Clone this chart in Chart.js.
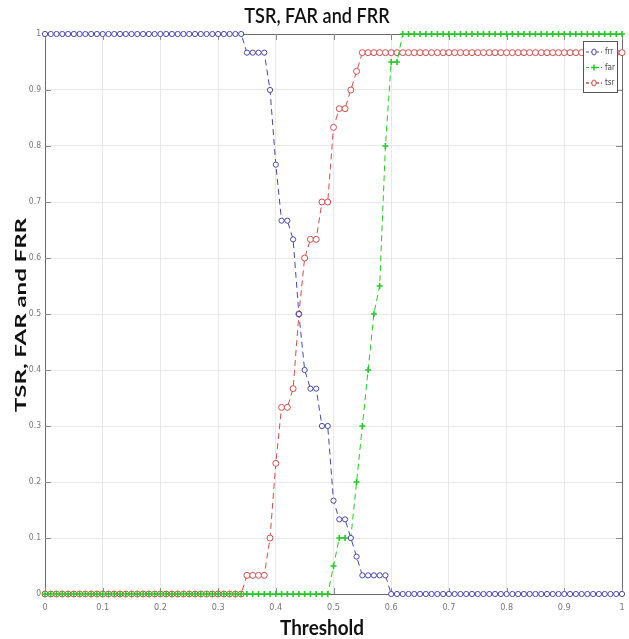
<!DOCTYPE html>
<html lang="en">
<head>
    <meta charset="UTF-8">
    <title>TSR, FAR and FRR</title>
    <script src="https://cdn.jsdelivr.net/npm/chart.js"></script>
    <style>
        html, body {
            margin: 0;
            padding: 0;
            background: #fff;
        }
        .chart-box {
            width: 629px;
            height: 639px;
        }
    </style>
</head>
<body>
    <div class="chart-box">
        <canvas id="rateChart" width="629" height="639"></canvas>
    </div>

    <script>
        const thresholds = [
            0.00, 0.01, 0.02, 0.03, 0.04, 0.05, 0.06, 0.07, 0.08, 0.09,
            0.10, 0.11, 0.12, 0.13, 0.14, 0.15, 0.16, 0.17, 0.18, 0.19,
            0.20, 0.21, 0.22, 0.23, 0.24, 0.25, 0.26, 0.27, 0.28, 0.29,
            0.30, 0.31, 0.32, 0.33, 0.34, 0.35, 0.36, 0.37, 0.38, 0.39,
            0.40, 0.41, 0.42, 0.43, 0.44, 0.45, 0.46, 0.47, 0.48, 0.49,
            0.50, 0.51, 0.52, 0.53, 0.54, 0.55, 0.56, 0.57, 0.58, 0.59,
            0.60, 0.61, 0.62, 0.63, 0.64, 0.65, 0.66, 0.67, 0.68, 0.69,
            0.70, 0.71, 0.72, 0.73, 0.74, 0.75, 0.76, 0.77, 0.78, 0.79,
            0.80, 0.81, 0.82, 0.83, 0.84, 0.85, 0.86, 0.87, 0.88, 0.89,
            0.90, 0.91, 0.92, 0.93, 0.94, 0.95, 0.96, 0.97, 0.98, 0.99,
            1.00
        ];

        const frr = [
            1, 1, 1, 1, 1, 1, 1, 1, 1, 1,
            1, 1, 1, 1, 1, 1, 1, 1, 1, 1,
            1, 1, 1, 1, 1, 1, 1, 1, 1, 1,
            1, 1, 1, 1, 1, 0.9667, 0.9667, 0.9667, 0.9667, 0.9,
            0.7667, 0.6667, 0.6667, 0.6333, 0.5, 0.4, 0.3667, 0.3667, 0.3, 0.3,
            0.1667, 0.1333, 0.1333, 0.1, 0.0667, 0.0333, 0.0333, 0.0333, 0.0333, 0.0333,
            0, 0, 0, 0, 0, 0, 0, 0, 0, 0,
            0, 0, 0, 0, 0, 0, 0, 0, 0, 0,
            0, 0, 0, 0, 0, 0, 0, 0, 0, 0,
            0, 0, 0, 0, 0, 0, 0, 0, 0, 0,
            0
        ];

        const far = [
            0, 0, 0, 0, 0, 0, 0, 0, 0, 0,
            0, 0, 0, 0, 0, 0, 0, 0, 0, 0,
            0, 0, 0, 0, 0, 0, 0, 0, 0, 0,
            0, 0, 0, 0, 0, 0, 0, 0, 0, 0,
            0, 0, 0, 0, 0, 0, 0, 0, 0, 0,
            0.05, 0.1, 0.1, 0.1, 0.2, 0.3, 0.4, 0.5, 0.55, 0.8,
            0.95, 0.95, 1, 1, 1, 1, 1, 1, 1, 1,
            1, 1, 1, 1, 1, 1, 1, 1, 1, 1,
            1, 1, 1, 1, 1, 1, 1, 1, 1, 1,
            1, 1, 1, 1, 1, 1, 1, 1, 1, 1,
            1
        ];

        const tsr = [
            0, 0, 0, 0, 0, 0, 0, 0, 0, 0,
            0, 0, 0, 0, 0, 0, 0, 0, 0, 0,
            0, 0, 0, 0, 0, 0, 0, 0, 0, 0,
            0, 0, 0, 0, 0, 0.0333, 0.0333, 0.0333, 0.0333, 0.1,
            0.2333, 0.3333, 0.3333, 0.3667, 0.5, 0.6, 0.6333, 0.6333, 0.7, 0.7,
            0.8333, 0.8667, 0.8667, 0.9, 0.9333, 0.9667, 0.9667, 0.9667, 0.9667, 0.9667,
            0.9667, 0.9667, 0.9667, 0.9667, 0.9667, 0.9667, 0.9667, 0.9667, 0.9667, 0.9667,
            0.9667, 0.9667, 0.9667, 0.9667, 0.9667, 0.9667, 0.9667, 0.9667, 0.9667, 0.9667,
            0.9667, 0.9667, 0.9667, 0.9667, 0.9667, 0.9667, 0.9667, 0.9667, 0.9667, 0.9667,
            0.9667, 0.9667, 0.9667, 0.9667, 0.9667, 0.9667, 0.9667, 0.9667, 0.9667, 0.9667,
            0.9667
        ];

        const axisTicks = [0, 0.1, 0.2, 0.3, 0.4, 0.5, 0.6, 0.7, 0.8, 0.9, 1];

        const seriesNames = ['frr', 'far', 'tsr'];
        const seriesColors = ['#4848b0', '#22cc22', '#d44c4c'];

        const chartTitle = 'TSR, FAR and FRR';
        const xTitle = 'Threshold';
        const yTitle = 'TSR, FAR and FRR';

        function toPoints(values) {
            return thresholds.map((t, i) => ({ x: t, y: values[i] }));
        }

        function tickText(v) {
            if (v === 0 || v === 1) return String(v);
            return v.toFixed(1);
        }

        // matlab style box around the axes, with inward tick marks
        const framePlugin = {
            id: 'frame',
            beforeDatasetsDraw(chart) {
                const { ctx, chartArea: a, scales } = chart;
                ctx.save();
                ctx.strokeStyle = '#6b6b6b';
                ctx.lineWidth = 1;
                ctx.strokeRect(a.left + 0.5, a.top + 0.5, a.right - a.left, a.bottom - a.top);
                ctx.strokeStyle = '#8a8a8a';
                ctx.beginPath();
                axisTicks.forEach(v => {
                    const px = Math.round(scales.x.getPixelForValue(v)) + 0.5;
                    const py = Math.round(scales.y.getPixelForValue(v)) + 0.5;
                    ctx.moveTo(px, a.bottom);
                    ctx.lineTo(px, a.bottom - 6);
                    ctx.moveTo(px, a.top);
                    ctx.lineTo(px, a.top + 6);
                    ctx.moveTo(a.left, py);
                    ctx.lineTo(a.left + 6, py);
                    ctx.moveTo(a.right, py);
                    ctx.lineTo(a.right - 6, py);
                });
                ctx.stroke();
                ctx.restore();
            }
        };

        // titles are a bit squeezed in the original picture, so draw them by hand
        const titlesPlugin = {
            id: 'titles',
            afterDraw(chart) {
                const { ctx, chartArea: a } = chart;
                const midY = (a.top + a.bottom) / 2;
                ctx.save();
                ctx.fillStyle = '#111';
                ctx.textAlign = 'center';
                ctx.textBaseline = 'middle';

                ctx.save();
                ctx.translate(317, 16);
                ctx.scale(0.86, 1);
                ctx.font = '600 21px Lato';
                ctx.fillText(chartTitle, 0, 0);
                ctx.restore();

                ctx.save();
                ctx.translate(322, 628);
                ctx.scale(0.9, 1);
                ctx.font = 'bold 21px Lato';
                ctx.fillText(xTitle, 0, 0);
                ctx.restore();

                ctx.save();
                ctx.translate(21, midY + 1);
                ctx.rotate(-Math.PI / 2);
                ctx.scale(1, 0.62);
                ctx.font = 'bold 24px Lato';
                ctx.fillText(yTitle, 0, 0);
                ctx.restore();

                ctx.restore();
            }
        };

        // small legend box in the upper right corner
        const boxLegend = {
            id: 'boxLegend',
            afterDatasetsDraw(chart) {
                const { ctx, chartArea: a } = chart;
                const w = 34, h = 51;
                const x = a.right - w - 5, y = a.top + 7;
                ctx.save();
                ctx.fillStyle = '#fff';
                ctx.fillRect(x, y, w, h);
                ctx.strokeStyle = '#555';
                ctx.lineWidth = 1;
                ctx.strokeRect(x + 0.5, y + 0.5, w, h);
                ctx.font = '8px "Liberation Sans Narrow", "DejaVu Sans Condensed", sans-serif';
                ctx.textBaseline = 'middle';
                chart.data.datasets.forEach((ds, i) => {
                    const cy = y + 11 + i * 15.5;
                    ctx.strokeStyle = ds.borderColor;
                    ctx.setLineDash([3, 2]);
                    ctx.beginPath();
                    ctx.moveTo(x + 3, cy);
                    ctx.lineTo(x + 19, cy);
                    ctx.stroke();
                    ctx.setLineDash([]);
                    ctx.beginPath();
                    if (ds.pointStyle === 'cross') {
                        ctx.moveTo(x + 11, cy - 3);
                        ctx.lineTo(x + 11, cy + 3);
                        ctx.moveTo(x + 8, cy);
                        ctx.lineTo(x + 14, cy);
                        ctx.lineWidth = 1.5;
                    } else {
                        ctx.ellipse(x + 11, cy, 2.2, 3, 0, 0, Math.PI * 2);
                        ctx.fillStyle = '#fff';
                        ctx.fill();
                        ctx.lineWidth = 1;
                    }
                    ctx.stroke();
                    ctx.fillStyle = '#444';
                    ctx.fillText(ds.label, x + 22, cy);
                });
                ctx.restore();
            }
        };

        const ctx = document.getElementById('rateChart').getContext('2d');

        new Chart(ctx, {
            type: 'line',
            data: {
                datasets: [
                    {
                        label: seriesNames[0],
                        data: toPoints(frr),
                        borderColor: seriesColors[0],
                        backgroundColor: '#fff',
                        borderWidth: 1,
                        borderDash: [6, 4],
                        pointStyle: 'circle',
                        pointRadius: 2.6,
                        pointBorderWidth: 1,
                        clip: false
                    },
                    {
                        label: seriesNames[1],
                        data: toPoints(far),
                        borderColor: seriesColors[1],
                        backgroundColor: seriesColors[1],
                        borderWidth: 1,
                        borderDash: [6, 4],
                        pointStyle: 'cross',
                        pointRadius: 3,
                        pointBorderWidth: 1.6,
                        clip: false
                    },
                    {
                        label: seriesNames[2],
                        data: toPoints(tsr),
                        borderColor: seriesColors[2],
                        backgroundColor: '#fff',
                        borderWidth: 1,
                        borderDash: [6, 4],
                        pointStyle: 'circle',
                        pointRadius: 3,
                        pointBorderWidth: 1,
                        clip: false
                    }
                ]
            },
            options: {
                responsive: false,
                animation: false,
                layout: {
                    autoPadding: false,
                    padding: { left: 0, right: 7, top: 34, bottom: 0 }
                },
                plugins: {
                    legend: { display: false },
                    tooltip: { enabled: false },
                    title: { display: false }
                },
                scales: {
                    x: {
                        type: 'linear',
                        min: 0,
                        max: 1,
                        afterBuildTicks: (scale) => {
                            scale.ticks = axisTicks.map(v => ({ value: v }));
                        },
                        afterFit: (scale) => {
                            scale.height = 45;
                            scale.paddingLeft = 0;
                            scale.paddingRight = 0;
                        },
                        grid: {
                            color: '#e8e8e8',
                            drawTicks: false
                        },
                        border: { display: false },
                        ticks: {
                            color: '#777',
                            padding: 8,
                            font: { family: '"Liberation Sans Narrow", "DejaVu Sans Condensed", sans-serif', size: 9 },
                            maxRotation: 0,
                            callback: (v) => tickText(v)
                        }
                    },
                    y: {
                        min: 0,
                        max: 1,
                        afterBuildTicks: (scale) => {
                            scale.ticks = axisTicks.map(v => ({ value: v }));
                        },
                        afterFit: (scale) => {
                            scale.width = 45;
                            scale.paddingTop = 0;
                            scale.paddingBottom = 0;
                        },
                        grid: {
                            color: '#e8e8e8',
                            drawTicks: false
                        },
                        border: { display: false },
                        ticks: {
                            color: '#777',
                            padding: 4,
                            font: { family: '"Liberation Sans Narrow", "DejaVu Sans Condensed", sans-serif', size: 8.5 },
                            callback: (v) => tickText(v)
                        }
                    }
                }
            },
            plugins: [framePlugin, boxLegend, titlesPlugin]
        });
    </script>
</body>
</html>
